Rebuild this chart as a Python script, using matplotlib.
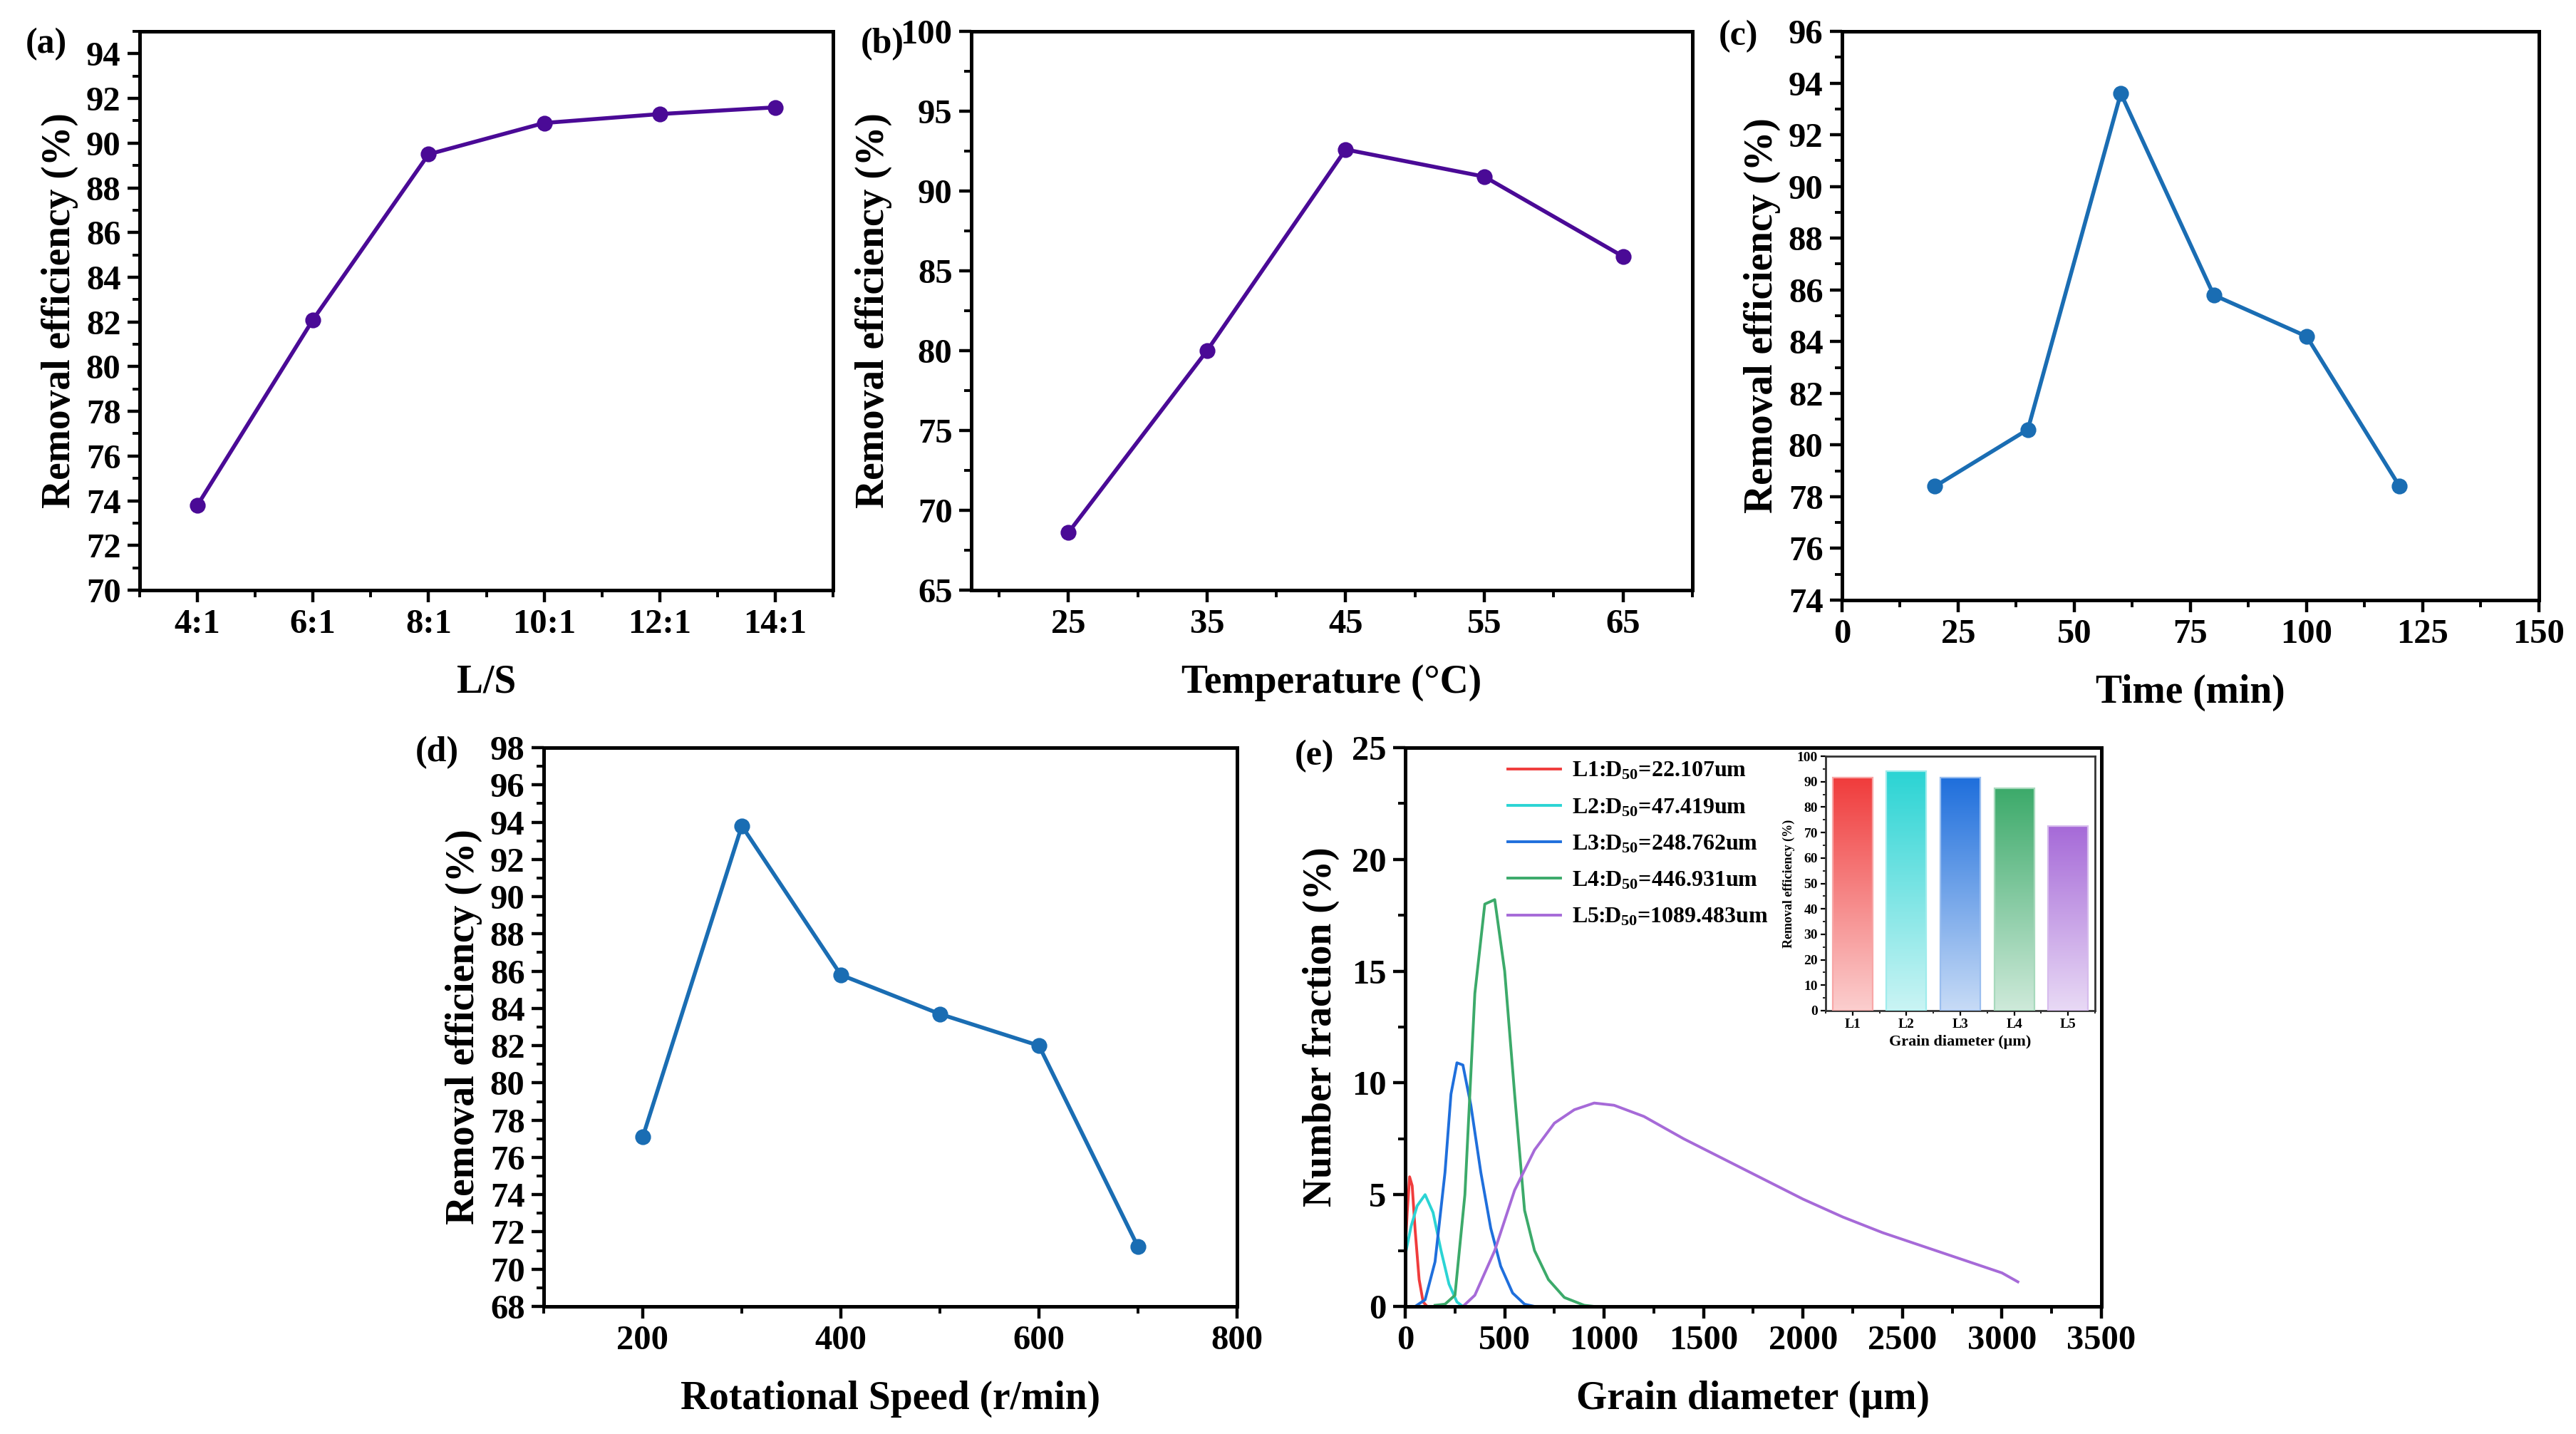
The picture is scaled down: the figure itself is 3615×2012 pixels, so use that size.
import matplotlib
matplotlib.use("Agg")
import matplotlib.pyplot as plt
import numpy as np
from matplotlib.colors import to_rgb
from matplotlib.ticker import MultipleLocator

plt.rcParams['font.family'] = ['Liberation Serif', 'DejaVu Serif']
plt.rcParams['font.weight'] = 'bold'
plt.rcParams['axes.labelweight'] = 'bold'
plt.rcParams['mathtext.fontset'] = 'custom'
plt.rcParams['mathtext.rm'] = 'Liberation Serif:bold'
plt.rcParams['mathtext.it'] = 'Liberation Serif:bold'
plt.rcParams['mathtext.bf'] = 'Liberation Serif:bold'

# ---- data ----
ls_labels = ['4:1', '6:1', '8:1', '10:1', '12:1', '14:1']
ls_eff = [73.8, 82.1, 89.5, 90.9, 91.3, 91.6]

temp = [25, 35, 45, 55, 65]
temp_eff = [68.6, 80.0, 92.6, 90.9, 85.9]

time_min = [20, 40, 60, 80, 100, 120]
time_eff = [78.4, 80.6, 93.6, 85.8, 84.2, 78.4]

speed = [200, 300, 400, 500, 600, 700]
speed_eff = [77.1, 93.8, 85.8, 83.7, 82.0, 71.2]

l1_x = [0, 10, 22, 35, 50, 70, 90, 110]
l1_y = [2.5, 4.2, 5.8, 5.4, 3.4, 1.2, 0.2, 0.0]
l2_x = [0, 30, 60, 100, 140, 180, 220, 260, 290]
l2_y = [2.3, 3.6, 4.5, 5.0, 4.2, 2.5, 1.0, 0.2, 0.0]
l3_x = [50, 100, 150, 200, 230, 260, 290, 330, 380, 430, 480, 540, 600, 650]
l3_y = [0.0, 0.3, 2.0, 6.0, 9.5, 10.9, 10.8, 9.0, 6.0, 3.5, 1.8, 0.6, 0.1, 0.0]
l4_x = [150, 200, 250, 300, 350, 400, 450, 500, 550, 600, 650, 720, 800, 900, 950]
l4_y = [0.05, 0.1, 0.5, 5.0, 14.0, 18.0, 18.2, 15.0, 9.5, 4.3, 2.5, 1.2, 0.4, 0.05, 0.0]
l5_x = [290, 350, 450, 550, 650, 750, 850, 950, 1050, 1200, 1400, 1600,
        1800, 2000, 2200, 2400, 2600, 2800, 3000, 3080]
l5_y = [0.0, 0.5, 2.5, 5.2, 7.0, 8.2, 8.8, 9.1, 9.0, 8.5, 7.5, 6.6,
        5.7, 4.8, 4.0, 3.3, 2.7, 2.1, 1.5, 1.1]
psd_labels = [r'L1:D$_{50}$=22.107um', r'L2:D$_{50}$=47.419um', r'L3:D$_{50}$=248.762um',
              r'L4:D$_{50}$=446.931um', r'L5:D$_{50}$=1089.483um']
psd_colors = ['#f03c3c', '#2bd4d4', '#1f6fdc', '#3caa6a', '#a66ad8']

bar_labels = ['L1', 'L2', 'L3', 'L4', 'L5']
bar_eff = [91.5, 94.0, 91.5, 87.5, 72.5]

PURPLE = '#4a0a96'
BLUE = '#1a6db3'

W, H = 3616, 2012
fig = plt.figure(figsize=(W / 200, H / 200), dpi=200)


def rect(l, t, r, b):
    return [l / W, 1 - b / H, (r - l) / W, (b - t) / H]


def style(ax, tick=17.5):
    for s in ax.spines.values():
        s.set_linewidth(1.8)
    ax.tick_params(which='major', direction='out', length=6, width=1.6,
                   labelsize=tick, top=False, right=False)
    ax.tick_params(which='minor', direction='out', length=3.5, width=1.4,
                   top=False, right=False)
    for lab in ax.get_xticklabels() + ax.get_yticklabels():
        lab.set_fontweight('bold')


def panel_label(txt, x, y):
    fig.text(x / W, 1 - y / H, txt, fontsize=18, fontweight='bold', ha='center', va='center')


ylab = 'Removal efficiency (%)'
LW, MS = 2.0, 7

# (a)
ax = fig.add_axes(rect(196, 44, 1169, 828))
xa = np.arange(len(ls_labels))
ax.plot(xa, ls_eff, '-o', color=PURPLE, lw=LW, ms=MS)
ax.set_xlim(-0.5, 5.5)
ax.set_ylim(70, 95)
ax.set_xticks(xa)
ax.set_xticklabels(ls_labels)
ax.xaxis.set_minor_locator(MultipleLocator(0.5))
ax.yaxis.set_major_locator(MultipleLocator(2))
ax.yaxis.set_minor_locator(MultipleLocator(1))
ax.set_xlabel('L/S', fontsize=20, labelpad=12)
ax.set_ylabel(ylab, fontsize=20, labelpad=4)
style(ax)
panel_label('(a)', 65, 62)

# (b)
ax = fig.add_axes(rect(1363, 44, 2375, 828))
ax.plot(temp, temp_eff, '-o', color=PURPLE, lw=LW, ms=MS)
ax.set_xlim(18, 70)
ax.set_ylim(65, 100)
ax.set_xticks(temp)
ax.xaxis.set_minor_locator(MultipleLocator(5))
ax.yaxis.set_major_locator(MultipleLocator(5))
ax.yaxis.set_minor_locator(MultipleLocator(2.5))
ax.set_xlabel('Temperature (°C)', fontsize=20, labelpad=12)
ax.set_ylabel(ylab, fontsize=20, labelpad=4)
style(ax)
panel_label('(b)', 1238, 62)

# (c)
ax = fig.add_axes(rect(2585, 44, 3563, 842))
ax.plot(time_min, time_eff, '-o', color=BLUE, lw=LW, ms=MS)
ax.set_xlim(0, 150)
ax.set_ylim(74, 96)
ax.xaxis.set_major_locator(MultipleLocator(25))
ax.xaxis.set_minor_locator(MultipleLocator(12.5))
ax.yaxis.set_major_locator(MultipleLocator(2))
ax.yaxis.set_minor_locator(MultipleLocator(1))
ax.set_xlabel('Time (min)', fontsize=20, labelpad=12)
ax.set_ylabel(ylab, fontsize=20, labelpad=4)
style(ax)
panel_label('(c)', 2440, 51)

# (d)
ax = fig.add_axes(rect(763, 1049, 1736, 1833))
ax.plot(speed, speed_eff, '-o', color=BLUE, lw=LW, ms=MS)
ax.set_xlim(100, 800)
ax.set_ylim(68, 98)
ax.xaxis.set_major_locator(MultipleLocator(200))
ax.xaxis.set_minor_locator(MultipleLocator(100))
ax.yaxis.set_major_locator(MultipleLocator(2))
ax.yaxis.set_minor_locator(MultipleLocator(1))
ax.set_xlabel('Rotational Speed (r/min)', fontsize=20, labelpad=12)
ax.set_ylabel(ylab, fontsize=20, labelpad=4)
style(ax)
panel_label('(d)', 613, 1056)

# (e)
ax = fig.add_axes(rect(1972, 1049, 2949, 1833))
for xs, ys, c, lab in zip([l1_x, l2_x, l3_x, l4_x, l5_x], [l1_y, l2_y, l3_y, l4_y, l5_y],
                          psd_colors, psd_labels):
    ax.plot(xs, ys, color=c, lw=1.4, label=lab)
ax.set_xlim(0, 3500)
ax.set_ylim(0, 25)
ax.xaxis.set_major_locator(MultipleLocator(500))
ax.xaxis.set_minor_locator(MultipleLocator(250))
ax.yaxis.set_major_locator(MultipleLocator(5))
ax.yaxis.set_minor_locator(MultipleLocator(2.5))
ax.set_xlabel('Grain diameter (μm)', fontsize=20, labelpad=12)
ax.set_ylabel('Number fraction (%)', fontsize=20, labelpad=6)
style(ax)
leg = ax.legend(loc='upper left', bbox_to_anchor=(0.125, 1.005), frameon=False,
                fontsize=11.5, handlelength=2.3, handletextpad=0.5,
                labelspacing=0.68, borderaxespad=0.3)
for t in leg.get_texts():
    t.set_fontweight('bold')
panel_label('(e)', 1845, 1061)

# inset bars with vertical gradient
ins = fig.add_axes(rect(2562, 1061, 2940, 1418))
xb = np.arange(len(bar_labels))
bw = 0.74
for xi, v, c in zip(xb, bar_eff, psd_colors):
    rgb = np.array(to_rgb(c))
    t = np.linspace(0, 1, 200)[:, None]          # 0 at top, 1 at bottom
    mix = 0.75 * t
    grad = rgb[None, :] * (1 - mix) + np.ones(3)[None, :] * mix
    ins.imshow(grad[:, None, :], extent=[xi - bw / 2, xi + bw / 2, 0, v],
               aspect='auto', zorder=2, interpolation='bilinear')
    light = rgb * 0.45 + 0.55
    ins.bar(xi, v, bw, facecolor='none', edgecolor=light, lw=0.8, zorder=3)
ins.set_xlim(-0.5, 4.5)
ins.set_ylim(0, 100)
ins.set_xticks(xb)
ins.set_xticklabels(bar_labels)
ins.xaxis.set_minor_locator(MultipleLocator(0.5))
ins.yaxis.set_major_locator(MultipleLocator(10))
ins.yaxis.set_minor_locator(MultipleLocator(5))
ins.set_xlabel('Grain diameter (μm)', fontsize=8, labelpad=2)
ins.set_ylabel(ylab, fontsize=6.5, labelpad=1)
for s in ins.spines.values():
    s.set_linewidth(1.0)
    s.set_color('#333333')
ins.tick_params(which='major', direction='out', length=2.5, width=0.8, labelsize=7, pad=1.5)
ins.tick_params(which='minor', direction='out', length=1.5, width=0.6)
for lab in ins.get_xticklabels() + ins.get_yticklabels():
    lab.set_fontweight('bold')

fig.savefig('out.png', dpi=200)
